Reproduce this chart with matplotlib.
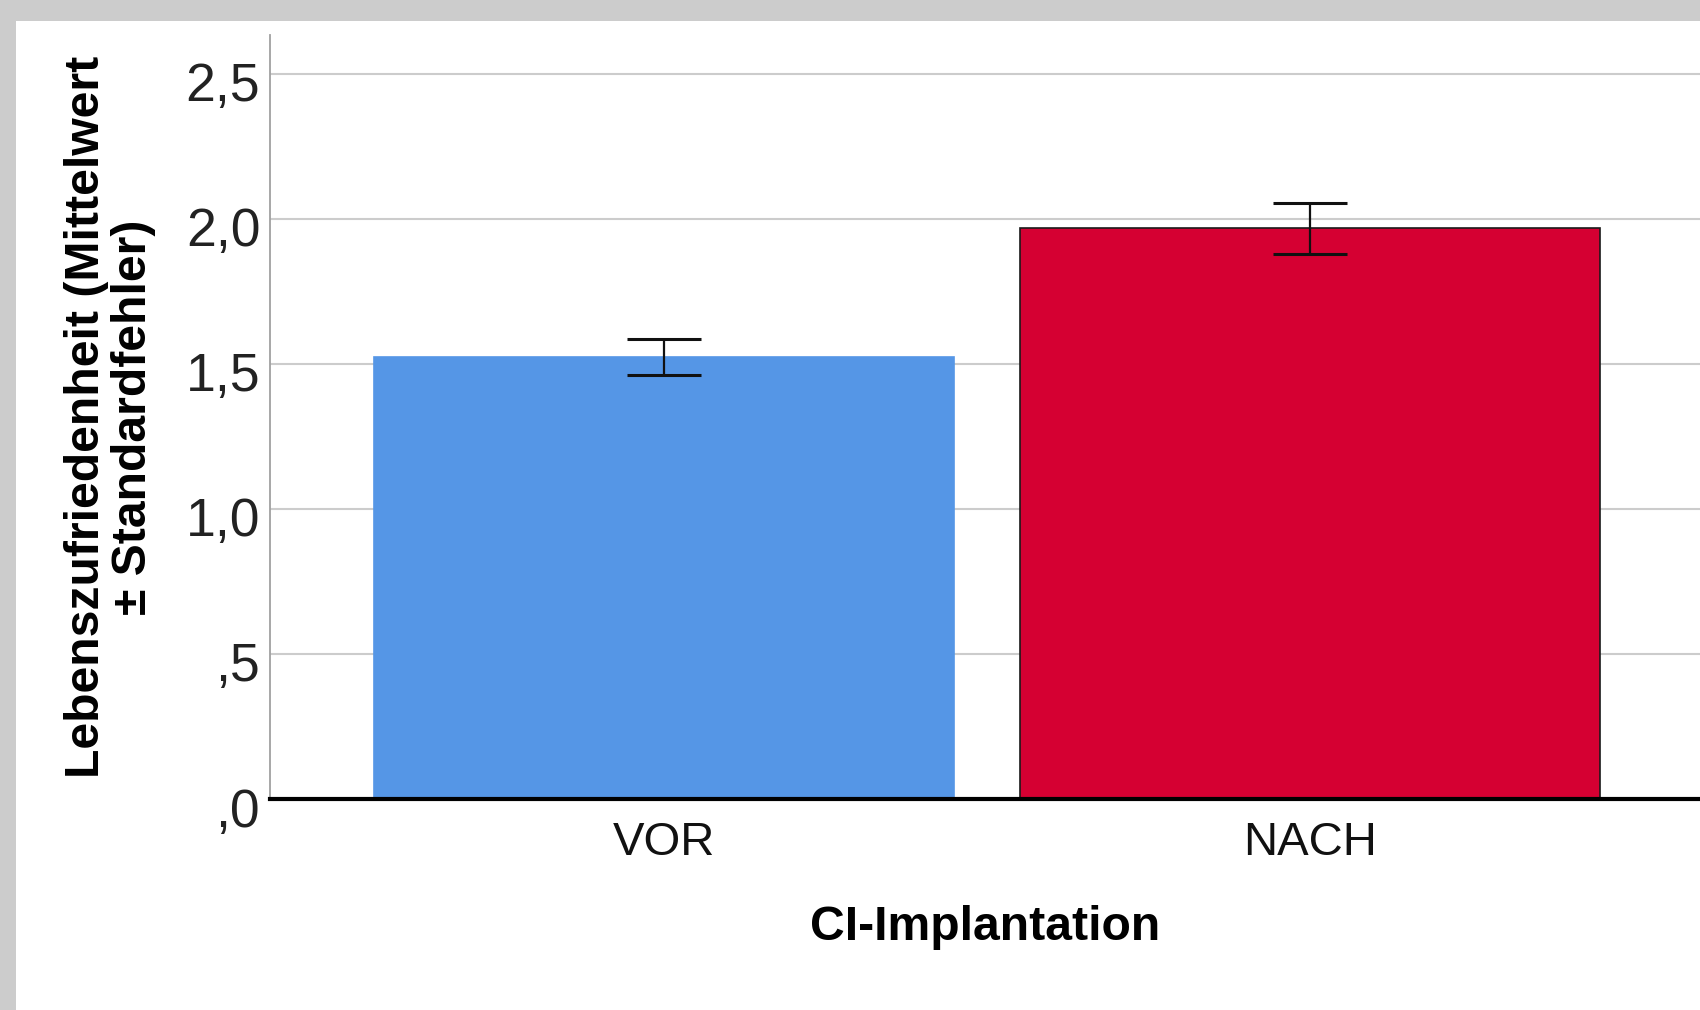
import matplotlib
matplotlib.use('Agg')
from matplotlib import pyplot as plt
from matplotlib.patches import Rectangle
from matplotlib import transforms

# means and standard errors
gruppen = ['VOR', 'NACH']
mittelwerte = [1.524, 1.968]
standardfehler = [0.061, 0.088]
farben = ['#5596E6', '#D50032']
kanten = ['#5596E6', '#1a1a1a']
yticks = [0.0, 0.5, 1.0, 1.5, 2.0, 2.5]
ytick_labels = [',0', ',5', '1,0', '1,5', '2,0', '2,5']

plt.rcParams['font.family'] = ['Liberation Sans', 'DejaVu Sans']

fig = plt.figure(figsize=(17, 10.1), dpi=100)
fig.patch.set_facecolor('#CCCCCC')
fig.add_artist(Rectangle((16/1700, 0), 1, (1010-21)/1010, transform=fig.transFigure,
                         facecolor='white', edgecolor='none', zorder=-1))

ax = fig.add_axes([270/1700, 211/1010, 1430/1700, 764/1010])
ax.set_facecolor('none')

x = range(len(gruppen))
ax.bar(x, mittelwerte, width=0.898, color=farben, edgecolor=kanten, linewidth=1.2, zorder=2)
ax.errorbar(x, mittelwerte, yerr=standardfehler, fmt='none', ecolor='#111111',
            elinewidth=1.6, capsize=26.5, capthick=2.2, zorder=3)

ax.set_xlim(-0.61, 1.604)
ax.set_ylim(0, 2.634)
ax.set_yticks(yticks)
ax.set_yticklabels(ytick_labels, fontsize=38.5, color='#222222')
ax.set_xticks(list(x))
ax.set_xticklabels(gruppen, fontsize=34, color='#111111')
ax.tick_params(axis='y', length=0, pad=7)
ax.tick_params(axis='x', length=0, pad=16)

# shift y tick labels a little below the grid lines
off = transforms.ScaledTranslation(0, -8/100, fig.dpi_scale_trans)
for lbl in ax.get_yticklabels():
    lbl.set_transform(lbl.get_transform() + off)

ax.grid(axis='y', color='#CCCCCC', linewidth=1.5, zorder=0)
ax.set_axisbelow(True)

for s in ['top', 'right']:
    ax.spines[s].set_visible(False)
ax.spines['left'].set_color('#A0A0A0')
ax.spines['left'].set_linewidth(1.3)
ax.spines['bottom'].set_color('black')
ax.spines['bottom'].set_linewidth(3)
ax.spines['bottom'].set_zorder(4)

ax.set_xlabel('CI-Implantation', fontsize=34.7, fontweight='bold', labelpad=29)
ax.set_ylabel('Lebenszufriedenheit (Mittelwert\n± Standardfehler)', fontsize=34.7,
              fontweight='bold', va='center', ha='center', linespacing=1.05)
ax.yaxis.set_label_coords(-0.112, 0.5)

plt.savefig('out.png', dpi=100, facecolor=fig.get_facecolor())
